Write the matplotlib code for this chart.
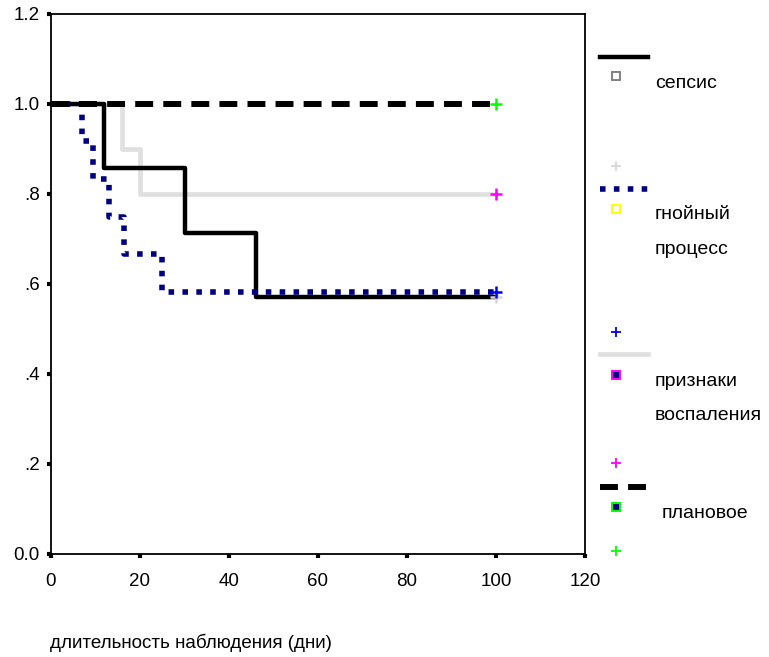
import matplotlib
matplotlib.use("Agg")
import matplotlib.pyplot as plt
from matplotlib.lines import Line2D

plt.rcParams['font.family'] = ['Liberation Sans', 'DejaVu Sans']

# Kaplan-Meier steps (time in days, cumulative survival)
sepsis_t = [0, 12, 30, 46, 100]
sepsis_s = [1.0, 0.857, 0.714, 0.571, 0.571]

pus_t = [0, 7, 9.5, 13, 16.5, 25, 100]
pus_s = [1.0, 0.917, 0.833, 0.75, 0.667, 0.583, 0.583]

infl_t = [0, 16, 20, 100]
infl_s = [1.0, 0.9, 0.8, 0.8]

plan_t = [0, 100]
plan_s = [1.0, 1.0]

groups = ['сепсис', 'гнойный\nпроцесс', 'признаки\nвоспаления', 'плановое']
xticks = [0, 20, 40, 60, 80, 100, 120]
yticks = [0.0, 0.2, 0.4, 0.6, 0.8, 1.0, 1.2]
ytick_labels = ['0.0', '.2', '.4', '.6', '.8', '1.0', '1.2']

W, H = 769, 657
fig = plt.figure(figsize=(W / 100, H / 100), dpi=100)
ax = fig.add_axes([51 / W, 1 - 554 / H, (585 - 51) / W, (554 - 14) / H])

navy = '#000080'
lgray = '#e0e0e0'
solid_kw = dict(color='black', lw=3.2)
pus_kw = dict(color=navy, lw=4.0, dashes=(1, 1.5), dash_capstyle='butt')
infl_kw = dict(color=lgray, lw=3.4)
plan_kw = dict(color='black', lw=4.3, dashes=(3, 1.7), dash_capstyle='butt')

ax.step(infl_t, infl_s, where='post', zorder=2, **infl_kw)
ax.step(sepsis_t, sepsis_s, where='post', zorder=3, **solid_kw)
ax.step(pus_t, pus_s, where='post', zorder=4, **pus_kw)
ax.step(plan_t, plan_s, where='post', zorder=5, **plan_kw)

# censored cases at the end of follow-up
ax.plot(sepsis_t[-1], sepsis_s[-1], '+', color='#d8d8d8', ms=9, mew=1.8, zorder=6)
ax.plot(pus_t[-1], pus_s[-1], '+', color='#0000ff', ms=9, mew=1.8, zorder=6)
ax.plot(infl_t[-1], infl_s[-1], '+', color='#ff00ff', ms=9, mew=1.8, zorder=6)
ax.plot(plan_t[-1], plan_s[-1], '+', color='#00ff00', ms=9, mew=1.8, zorder=6)

ax.set_xlim(0, 120)
ax.set_ylim(0, 1.2)
ax.set_xticks(xticks)
ax.set_xticklabels([str(v) for v in xticks])
ax.set_yticks(yticks)
ax.set_yticklabels(ytick_labels)
ax.tick_params(direction='out', length=3, width=3, labelsize=13.5)
ax.tick_params(axis='x', pad=11)
ax.tick_params(axis='y', pad=5)
for sp in ax.spines.values():
    sp.set_linewidth(1.3)

fig.text(50 / W, 1 - 648 / H, 'длительность наблюдения (дни)', fontsize=13.5,
         ha='left', va='baseline')


# legend drawn the way the stats package lays it out
def px(x, y):
    return x / W, 1 - y / H


def leg_line(y, **kw):
    x0, yy = px(600, y)
    x1, _ = px(648, y)
    fig.add_artist(Line2D([x0, x1], [yy, yy], transform=fig.transFigure, **kw))


def leg_mark(y, **kw):
    x, yy = px(616, y)
    fig.add_artist(Line2D([x], [yy], transform=fig.transFigure, ls='none', **kw))


leg_line(57, **solid_kw)
leg_mark(76, marker='s', ms=5.5, mfc='white', mec='#808080', mew=1.4)
leg_mark(166, marker='+', ms=7.5, color='#d8d8d8', mew=1.3)

leg_line(189, **pus_kw)
leg_mark(209, marker='s', ms=5.5, mfc='white', mec='#ffff00', mew=1.4)
leg_mark(332, marker='+', ms=7.5, color='#0000ff', mew=1.3)

leg_line(354, **infl_kw)
leg_mark(375, marker='s', ms=5.5, mfc=navy, mec='#ff00ff', mew=1.4)
leg_mark(463, marker='+', ms=7.5, color='#ff00ff', mew=1.3)

leg_line(487, **plan_kw)
leg_mark(507, marker='s', ms=5.5, mfc=navy, mec='#00ff00', mew=1.4)
leg_mark(551, marker='+', ms=7.5, color='#00ff00', mew=1.3)

label_pos = [(655, 84), (655, 215), (655, 382), (662, 513)]
for name, (x, y) in zip(groups, label_pos):
    for i, part in enumerate(name.split('\n')):
        fig.text(*px(x, y + i * 34), part, fontsize=14, ha='left', va='center')

fig.savefig('out.png', dpi=100)
